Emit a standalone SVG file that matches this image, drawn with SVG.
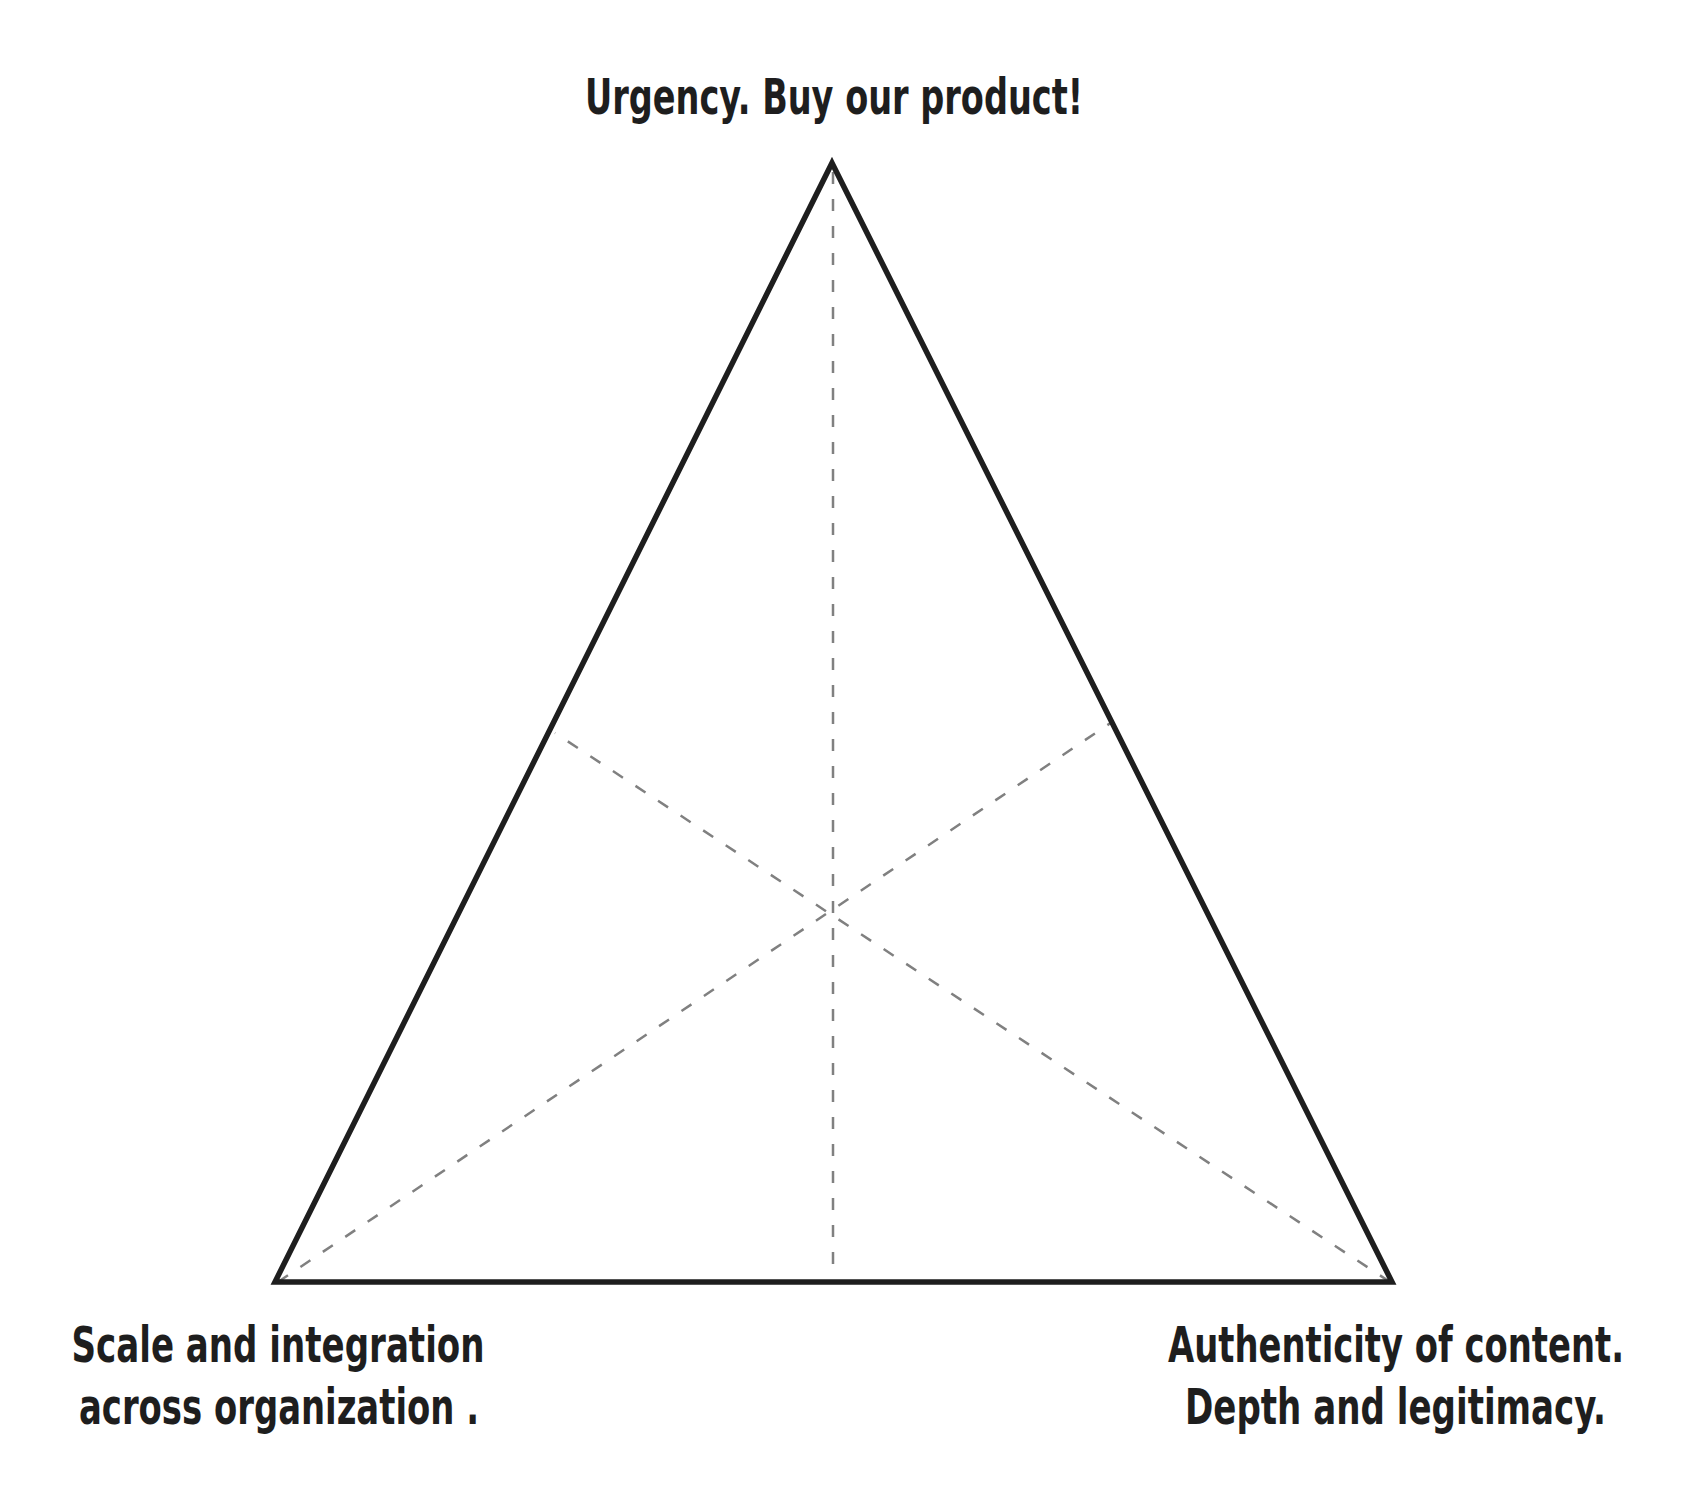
<svg xmlns="http://www.w3.org/2000/svg" width="1704" height="1504" viewBox="0 0 1704 1504">
<style>
.lbl{font-family:"Liberation Sans Narrow","DejaVu Sans Condensed","Liberation Sans",sans-serif;font-weight:bold;font-size:50px;fill:#1e1e1e;text-anchor:middle}
.end{text-anchor:end}
.dash{stroke:#808080;stroke-width:2.5;stroke-dasharray:12 15;fill:none}
.tri{stroke:#1e1e1e;stroke-width:5.5;fill:none;stroke-linejoin:miter}
</style>
<rect width="1704" height="1504" fill="#ffffff"/>
<g id="connectors">
<line class="dash" x1="833" y1="172" x2="833" y2="1272"/>
<line class="dash" x1="278" y1="1282" x2="1112" y2="722"/>
<line class="dash" x1="1390" y1="1282" x2="555" y2="733"/>
</g>
<g id="triangle">
<polygon class="tri" points="832,163 1392,1282 275,1282"/>
</g>
<g id="top-label">
<text class="lbl" x="834" y="114" textLength="498" lengthAdjust="spacingAndGlyphs">Urgency. Buy our product!</text>
</g>
<g id="left-label">
<text class="lbl" x="278" y="1362" textLength="413" lengthAdjust="spacingAndGlyphs">Scale and integration</text>
<text class="lbl" x="279" y="1424" textLength="400" lengthAdjust="spacingAndGlyphs">across organization .</text>
</g>
<g id="right-label">
<text class="lbl end" x="1624" y="1362" textLength="456" lengthAdjust="spacingAndGlyphs">Authenticity of content.</text>
<text class="lbl end" x="1606" y="1424" textLength="421" lengthAdjust="spacingAndGlyphs">Depth and legitimacy.</text>
</g>
</svg>
